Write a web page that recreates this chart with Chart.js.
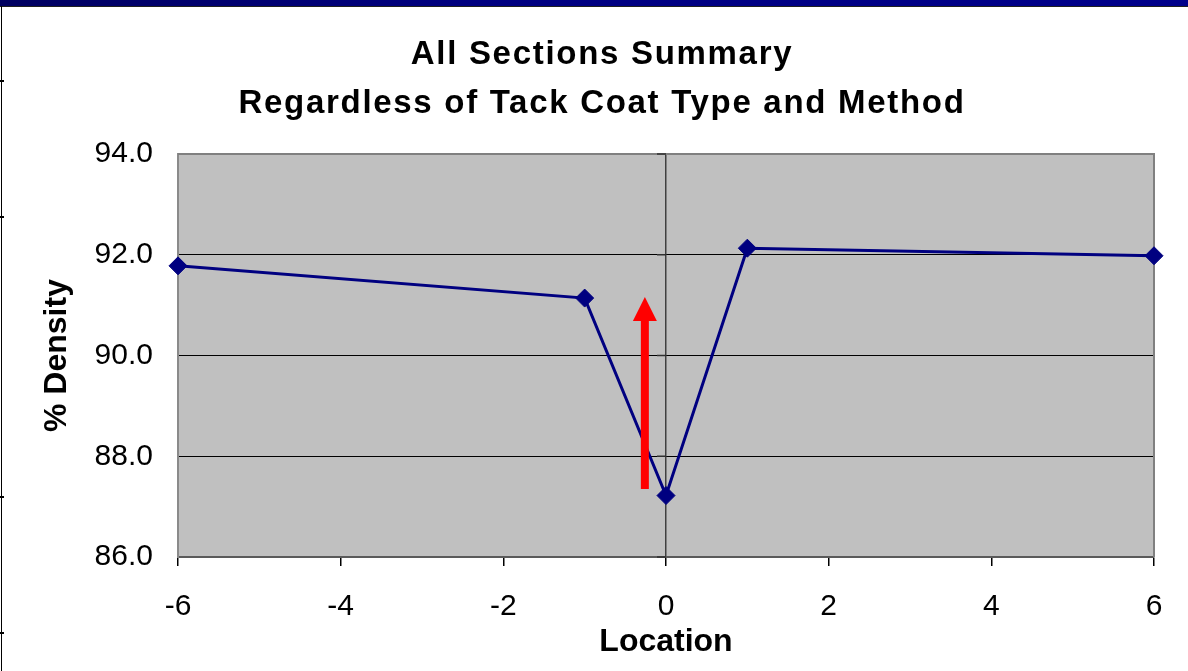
<!DOCTYPE html>
<html>
<meta name="viewport" content="width=device-width, initial-scale=1.0" />
<style>
	html, body {
		width: 100%;
		height: 100%;
		margin: 0;
		padding: 0;
		overflow: hidden;
		background: #fff;
	}
	#wrap {
		position: absolute;
		left: 0;
		top: 0;
		width: 1188px;
		height: 671px;
	}
	#topBar {
		position: absolute;
		left: 0;
		top: 0;
		width: 1188px;
		height: 6px;
		background: linear-gradient(to right, #000060, #000080 40%, #00008a);
		border-bottom: 1px solid #202020;
	}
	#leftLine {
		position: absolute;
		left: 1px;
		top: 6px;
		width: 1px;
		height: 665px;
		background: #000;
	}
	.notch {
		position: absolute;
		left: 0;
		width: 4px;
		height: 2px;
		background: #000;
	}
</style>
<script src="https://cdn.jsdelivr.net/npm/chart.js"></script>
<script>

	// Chart values
	var locations = [-6, -1, 0, 1, 6];
	var density = [91.78, 91.14, 87.22, 92.13, 91.98];
	var titleLines = ["All Sections Summary", "Regardless of Tack Coat Type and Method"];
	var xTitle = "Location";
	var yTitle = "% Density";

	// red arrow, in data units
	var arrowX = [-0.26];
	var arrowY = [87.35, 91.16];

	var fontName = "'Liberation Sans', Arial, sans-serif";

	// grey plot area, frame, zero line notches, title
	var plotDeco = {
		id: 'plotDeco',
		beforeDraw: function (chart) {
			var a = chart.chartArea, ctx = chart.ctx;
			ctx.save();
			ctx.fillStyle = '#C0C0C0';
			ctx.fillRect(a.left, a.top, a.right - a.left, a.bottom - a.top);
			ctx.restore();
		},
		beforeDatasetsDraw: function (chart) {
			var a = chart.chartArea, ctx = chart.ctx;
			var xs = chart.scales.x, ys = chart.scales.y;
			ctx.save();
			ctx.strokeStyle = '#808080';
			ctx.lineWidth = 2;
			ctx.beginPath();
			ctx.moveTo(a.left, a.top);
			ctx.lineTo(a.right, a.top);
			ctx.lineTo(a.right, a.bottom);
			ctx.stroke();
			// little ticks on the zero line
			var x0 = xs.getPixelForValue(0);
			ctx.strokeStyle = '#303030';
			ctx.lineWidth = 1.5;
			ys.ticks.forEach(function (t) {
				var py = ys.getPixelForValue(t.value);
				ctx.beginPath();
				ctx.moveTo(x0 - 9, py);
				ctx.lineTo(x0, py);
				ctx.stroke();
			});
			ctx.restore();
		},
		afterDatasetsDraw: function (chart) {
			var ctx = chart.ctx;
			var xs = chart.scales.x, ys = chart.scales.y;
			var ax = xs.getPixelForValue(arrowX[0]);
			var yBot = ys.getPixelForValue(arrowY[0]);
			var yTip = ys.getPixelForValue(arrowY[1]);
			ctx.save();
			ctx.fillStyle = '#FF0000';
			ctx.fillRect(ax - 4, yTip + 23, 8, yBot - yTip - 23);
			ctx.beginPath();
			ctx.moveTo(ax, yTip);
			ctx.lineTo(ax + 12, yTip + 24);
			ctx.lineTo(ax - 12, yTip + 24);
			ctx.closePath();
			ctx.fill();
			ctx.restore();
		},
		afterDraw: function (chart) {
			var ctx = chart.ctx;
			ctx.save();
			ctx.fillStyle = '#000';
			ctx.font = 'bold 33px ' + fontName;
			ctx.textAlign = 'center';
			ctx.textBaseline = 'middle';
			ctx.letterSpacing = '1.7px';
			ctx.fillText(titleLines[0], 602, 55);
			ctx.fillText(titleLines[1], 602, 104);
			ctx.restore();
		}
	};

	window.onload = function () {

		var points = [];
		for (var i = 0; i < locations.length; i++) {
			points.push({ x: locations[i], y: density[i] });
		}

		var data = {
			datasets: [{
				label: yTitle,
				data: points,
				borderColor: '#000080',
				backgroundColor: '#000080',
				borderWidth: 3,
				pointStyle: 'rectRot',
				pointRadius: 9,
				pointHoverRadius: 9,
				pointBorderWidth: 1,
				tension: 0,
				clip: false
			}]
		};

		var config = {
			type: 'line',
			data: data,
			plugins: [plotDeco],
			options: {
				responsive: false,
				animation: false,
				events: [],
				layout: {
					padding: { left: 0, right: 34, top: 154, bottom: 0 }
				},
				plugins: {
					legend: { display: false },
					title: { display: false },
					tooltip: { enabled: false }
				},
				scales: {
					x: {
						type: 'linear',
						min: -6,
						max: 6,
						afterFit: function (s) { s.height = 114; },
						ticks: {
							stepSize: 2,
							color: '#000',
							padding: 23,
							font: { family: fontName, size: 30 }
						},
						grid: {
							color: function (c) {
								return c.tick && c.tick.value === 0 ? '#404040' : 'rgba(0,0,0,0)';
							},
							tickColor: '#000',
							tickLength: 9,
							lineWidth: 1.5
						},
						border: { color: '#5a5a5a', width: 2 },
						title: {
							display: true,
							text: xTitle,
							color: '#000',
							padding: { top: 10, bottom: 10 },
							font: { family: fontName, size: 32, weight: 'bold' }
						}
					},
					y: {
						min: 86,
						max: 94,
						afterFit: function (s) { s.width = 178; },
						ticks: {
							stepSize: 2,
							color: '#000',
							padding: 25,
							font: { family: fontName, size: 30 },
							callback: function (v) { return v.toFixed(1); }
						},
						grid: {
							color: '#000',
							lineWidth: 1,
							drawTicks: false
						},
						border: { color: '#8a8a8a', width: 2 },
						title: {
							display: true,
							text: yTitle,
							color: '#000',
							padding: { top: 38, bottom: 38 },
							font: { family: fontName, size: 32, weight: 'bold' }
						}
					}
				}
			}
		};

		var myChart = new Chart(document.getElementById('myChart'), config);
	}

</script>
<body>
	<div id="wrap">
		<canvas id="myChart" width="1188" height="671"></canvas>
	</div>
	<div id="topBar"></div>
	<div id="leftLine"></div>
	<div class="notch" style="top:80px"></div>
	<div class="notch" style="top:216px"></div>
	<div class="notch" style="top:496px"></div>
	<div class="notch" style="top:632px"></div>
</body>
</html>
